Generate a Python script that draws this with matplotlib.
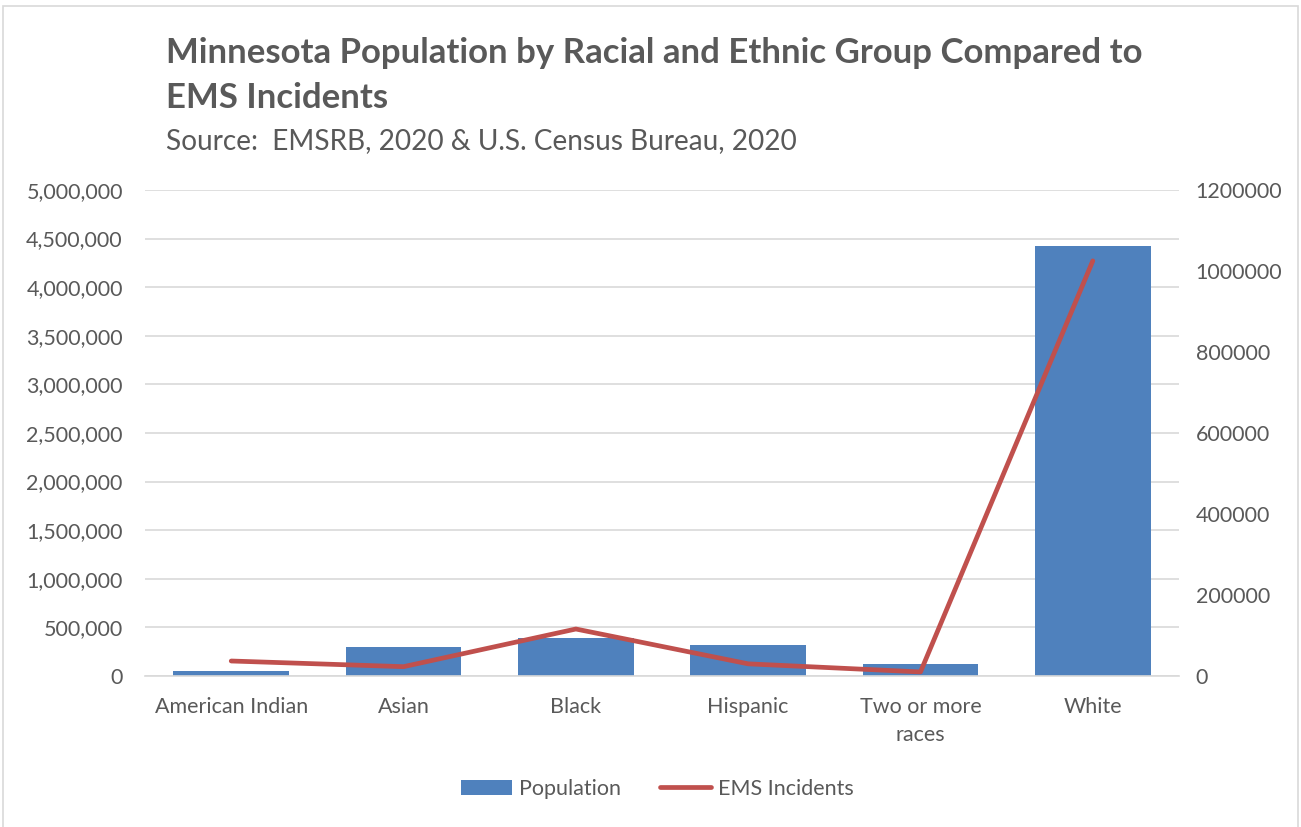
import matplotlib.pyplot as plt
from matplotlib.ticker import FuncFormatter
from matplotlib.patches import Rectangle

groups = ["American Indian", "Asian", "Black", "Hispanic", "Two or more\nraces", "White"]
population = [50000, 299000, 395000, 315000, 127000, 4420000]
ems_incidents = [37000, 23000, 116000, 30000, 10000, 1025000]

grey = "#595959"
plt.rcParams["font.family"] = ["Lato", "DejaVu Sans"]

fig = plt.figure(figsize=(13.01, 8.27), dpi=100)
fig.patches.append(Rectangle((0.002, -0.01), 0.996, 1.003, transform=fig.transFigure,
                             fill=False, edgecolor="#d9d9d9", linewidth=1.2))

ax = fig.add_axes([0.1115, 0.1826, 0.7947, 0.5877])
ax2 = ax.twinx()

x = range(len(groups))
ax.bar(x, population, width=0.67, color="#4f81bd", label="Population", zorder=2)
ax2.plot(x, ems_incidents, color="#c0504d", linewidth=3.4, solid_capstyle="round",
         label="EMS Incidents", zorder=3)

ax.set_xlim(-0.5, len(groups) - 0.5)
ax.set_ylim(0, 5000000)
ax.set_yticks(range(0, 5000001, 500000))
ax.yaxis.set_major_formatter(FuncFormatter(lambda v, p: f"{int(v):,}"))
ax2.set_ylim(0, 1200000)
ax2.set_yticks(range(0, 1200001, 200000))
ax2.yaxis.set_major_formatter(FuncFormatter(lambda v, p: f"{int(v)}"))

ax.grid(axis="y", color="#d9d9d9", linewidth=1.2, zorder=0)
ax.set_axisbelow(True)
ax.set_xticks(list(x))
ax.set_xticklabels(groups, linespacing=1.5)

for a in (ax, ax2):
    for s in a.spines.values():
        s.set_visible(False)
    a.tick_params(length=0, labelsize=15.5, labelcolor=grey)
ax.spines["bottom"].set_visible(True)
ax.spines["bottom"].set_color("#d9d9d9")
ax.spines["bottom"].set_linewidth(1.2)
ax.tick_params(axis="y", pad=16)
ax.tick_params(axis="x", pad=15)
ax2.tick_params(axis="y", pad=12)

fig.text(0.1276, 0.936, "Minnesota Population by Racial and Ethnic Group Compared to",
         fontsize=25, fontweight="bold", color=grey, va="center")
fig.text(0.1276, 0.881, "EMS Incidents", fontsize=25, fontweight="bold", color=grey, va="center")
fig.text(0.1276, 0.830, "Source:  EMSRB, 2020 & U.S. Census Bureau, 2020",
         fontsize=20.2, color=grey, va="center")

h1, l1 = ax.get_legend_handles_labels()
h2, l2 = ax2.get_legend_handles_labels()
fig.legend(h1 + h2, l1 + l2, loc="center", bbox_to_anchor=(0.505, 0.046), ncol=2,
           frameon=False, fontsize=15.5, labelcolor=grey, handlelength=2.4,
           handletextpad=0.3, columnspacing=1.8)

fig.savefig("out.png", dpi=100)
